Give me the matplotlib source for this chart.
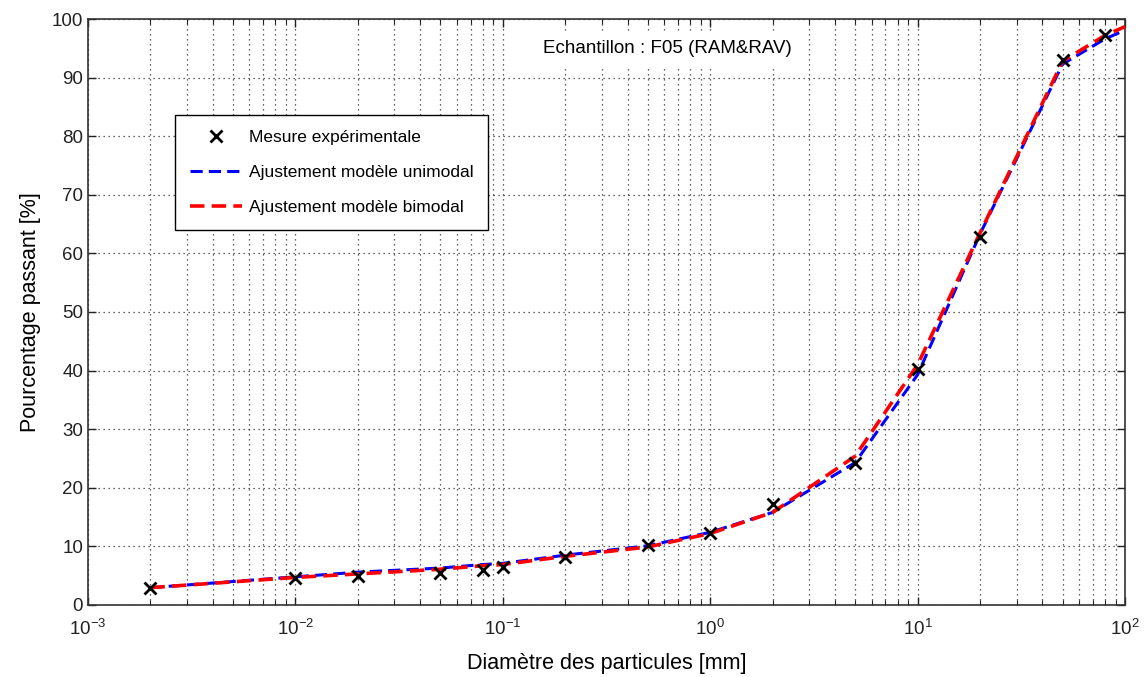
import matplotlib
matplotlib.use("Agg")
import matplotlib.pyplot as plt
from matplotlib.ticker import LogLocator, MultipleLocator, NullFormatter

plt.rcParams['font.family'] = ['Liberation Sans', 'DejaVu Sans']
plt.rcParams['mathtext.fontset'] = 'custom'
plt.rcParams['mathtext.rm'] = 'Liberation Sans'
plt.rcParams['mathtext.it'] = 'Liberation Sans'
plt.rcParams['axes.unicode_minus'] = False

# Measured points
d_mes = [0.002, 0.01, 0.02, 0.05, 0.08, 0.1, 0.2, 0.5, 1, 2, 5, 10, 20, 50, 80]
p_mes = [2.9, 4.6, 5.0, 5.4, 5.9, 6.5, 8.2, 10.2, 12.2, 17.2, 24.2, 40.2, 62.8, 93.0, 97.2]

# Model curves
d_fit = [0.002, 0.01, 0.02, 0.05, 0.08, 0.1, 0.2, 0.5, 1, 2, 5, 10, 20, 50, 80, 100]
p_uni = [2.95, 4.8, 5.6, 6.3, 6.9, 7.1, 8.5, 10.1, 12.4, 15.8, 24.3, 39.3, 63.3, 92.3, 96.6, 98.1]
p_bi = [2.95, 4.7, 5.3, 6.1, 6.7, 6.9, 8.3, 9.9, 12.2, 15.8, 25.4, 41.0, 63.5, 92.8, 97.2, 98.7]

fig = plt.figure(figsize=(11.44, 6.77), dpi=100)
ax = fig.add_axes([0.0769, 0.1064, 0.9065, 0.8655])

ax.plot(d_fit, p_uni, color='#0000ff', lw=2.2, dashes=(4, 2), label='Ajustement modèle unimodal', zorder=3)
ax.plot(d_fit, p_bi, color='#ff0000', lw=2.6, dashes=(4, 2), label='Ajustement modèle bimodal', zorder=4)
ax.plot(d_mes, p_mes, ls='none', marker='x', color='black', ms=9, mew=2,
        label='Mesure expérimentale', zorder=5)

ax.set_xscale('log')
ax.set_xlim(1e-3, 1e2)
ax.set_ylim(0, 100)
ax.yaxis.set_major_locator(MultipleLocator(10))
ax.xaxis.set_major_locator(LogLocator(base=10, numticks=10))
ax.xaxis.set_minor_locator(LogLocator(base=10, subs=range(2, 10), numticks=20))
ax.xaxis.set_minor_formatter(NullFormatter())

ax.grid(True, which='major', axis='both', ls=(0, (1, 3)), color='#333333', lw=0.9)
ax.grid(True, which='minor', axis='x', ls=(0, (1, 3)), color='#333333', lw=0.9)

ax.tick_params(which='both', direction='in', top=True, right=True, labelsize=13.5, colors='#222222')
ax.tick_params(which='major', length=6, width=1)
ax.tick_params(which='minor', length=3.5, width=0.8)
ax.tick_params(axis='x', pad=10)
for s in ax.spines.values():
    s.set_linewidth(1.2)
    s.set_color('#333333')

ax.set_xlabel('Diamètre des particules [mm]', fontsize=15.5, labelpad=10)
ax.set_ylabel('Pourcentage passant [%]', fontsize=15.5, labelpad=8)

ax.text(0.559, 0.949, 'Echantillon : F05 (RAM&RAV)', transform=ax.transAxes,
        ha='center', va='center', fontsize=13.5,
        bbox=dict(facecolor='white', edgecolor='none', pad=6), zorder=6)

h, l = ax.get_legend_handles_labels()
order = [2, 0, 1]
leg = ax.legend([h[i] for i in order], [l[i] for i in order], loc='upper left',
                bbox_to_anchor=(0.084, 0.836), fontsize=12.5, fancybox=False,
                edgecolor='black', framealpha=1, handlelength=3, labelspacing=1.15,
                borderpad=0.85, handletextpad=0.4, borderaxespad=0)
leg.get_frame().set_linewidth(1.0)
leg.set_zorder(7)

fig.savefig('out.png', dpi=100)
